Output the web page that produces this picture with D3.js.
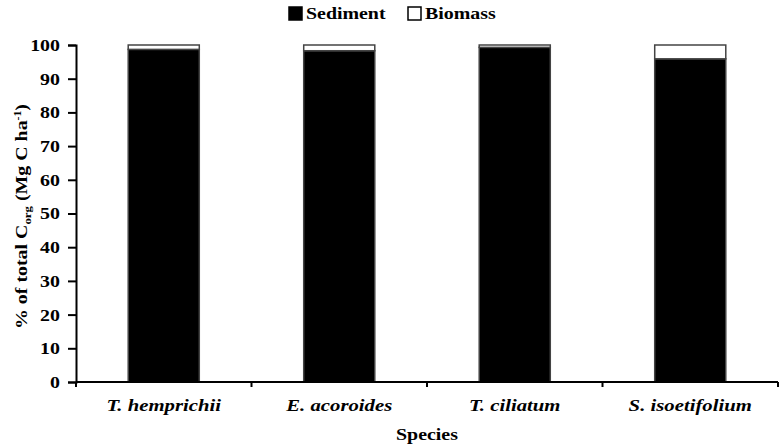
<!DOCTYPE html>
<html>
<head>
<meta charset="utf-8">
<script src="https://cdn.jsdelivr.net/npm/d3@7"></script>
<style>
  body { margin: 0; background: #fff; }
  svg { font-family: "Liberation Serif", "Times New Roman", serif; font-weight: bold; }
</style>
</head>
<body>
<svg id="chart" width="784" height="447"></svg>
<script>
// dados
const species = ["T. hemprichii", "E. acoroides", "T. ciliatum", "S. isoetifolium"];
const sediment = [98.7, 98.3, 99.3, 95.9];
const biomass = [1.3, 1.7, 0.7, 4.1];
const yTicks = [0, 10, 20, 30, 40, 50, 60, 70, 80, 90, 100];

const svg = d3.select("#chart");
const margin = {left: 76, right: 6, top: 45, bottom: 65};
const width = 784 - margin.left - margin.right;
const height = 447 - margin.top - margin.bottom;
const stretch = 1.17; // o texto do original está esticado na horizontal
const fs = 17;

const g = svg.append("g").attr("transform", `translate(${margin.left},${margin.top})`);

const x = d3.scaleBand().domain(species).range([0, width]).paddingInner(0.595).paddingOuter(0.2975);
const y = d3.scaleLinear().domain([0, 100]).range([height, 0]);

const rows = species.map((s, i) => ({species: s, Sediment: sediment[i], Biomass: biomass[i]}));
const stack = d3.stack().keys(["Sediment", "Biomass"])(rows);
const fills = {Sediment: "#000", Biomass: "#fff"};

g.selectAll("g.layer")
  .data(stack)
  .enter().append("g")
  .attr("class", "layer")
  .attr("fill", d => fills[d.key])
  .selectAll("rect")
  .data(d => d)
  .enter().append("rect")
  .attr("x", d => x(d.data.species))
  .attr("y", d => y(d[1]))
  .attr("width", x.bandwidth())
  .attr("height", d => y(d[0]) - y(d[1]))
  .attr("stroke", "#444")
  .attr("stroke-width", 1.5);

// eixo y
const yAxis = g.append("g")
  .call(d3.axisLeft(y).tickValues(yTicks).tickSize(8).tickPadding(0));
yAxis.select(".domain").attr("stroke", "#000").attr("stroke-width", 2);
yAxis.selectAll(".tick line").attr("stroke", "#000").attr("stroke-width", 2);
yAxis.selectAll("text")
  .attr("x", 0)
  .attr("transform", `translate(-16,0) scale(${stretch},1)`)
  .attr("font-size", fs).attr("fill", "#000")
  .attr("font-family", "Liberation Serif").attr("font-weight", "bold");

// eixo x: marcas entre as categorias
const step = x.step();
const xAxis = g.append("g").attr("transform", `translate(0,${height})`);
xAxis.append("line").attr("x1", 0).attr("x2", width).attr("stroke", "#000").attr("stroke-width", 2);
d3.range(species.length + 1).forEach(i => {
  xAxis.append("line").attr("x1", i * step).attr("x2", i * step).attr("y1", 0).attr("y2", 5)
    .attr("stroke", "#000").attr("stroke-width", 2);
});
xAxis.selectAll("text.cat")
  .data(species)
  .enter().append("text")
  .attr("class", "cat")
  .attr("transform", d => `translate(${x(d) + x.bandwidth() / 2},29) scale(1.22,1)`)
  .attr("text-anchor", "middle")
  .attr("font-size", fs)
  .attr("font-style", "italic")
  .text(d => d);

// títulos dos eixos
svg.append("text")
  .attr("transform", `translate(${margin.left + width / 2},440) scale(${stretch},1)`)
  .attr("text-anchor", "middle")
  .attr("font-size", fs)
  .text("Species");

const yTitle = svg.append("text")
  .attr("transform", `translate(27,${margin.top + height / 2 + 3}) rotate(-90) scale(${stretch},1)`)
  .attr("text-anchor", "middle")
  .attr("font-size", fs);
yTitle.append("tspan").text("% of total C");
yTitle.append("tspan").attr("font-size", 11).attr("dy", 4).text("org");
yTitle.append("tspan").attr("dy", -4).text("  (Mg C ha");
yTitle.append("tspan").attr("font-size", 10).attr("dy", -6).text("-1");
yTitle.append("tspan").attr("dy", 6).text(")");

// legenda
const legend = svg.append("g").attr("transform", "translate(289,5)");
const legendItems = [{key: "Sediment", x: 0}, {key: "Biomass", x: 119}];
legendItems.forEach(it => {
  legend.append("rect").attr("x", it.x).attr("y", 2).attr("width", 13).attr("height", 13)
    .attr("fill", fills[it.key]).attr("stroke", "#000").attr("stroke-width", 1.5);
  legend.append("text").attr("transform", `translate(${it.x + 17},14) scale(${stretch},1)`)
    .attr("font-size", fs).text(it.key);
});
</script>
</body>
</html>
